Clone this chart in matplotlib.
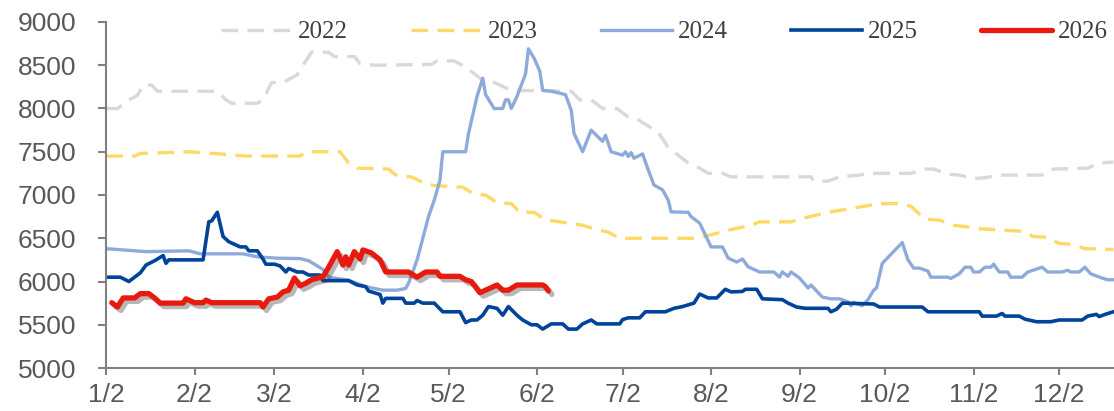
"""
Price by calendar day, 2022-2026 (seasonal comparison)
"""

from datetime import date
import matplotlib.pyplot as plt
import matplotlib.patheffects as pe

# ── Data: x = days counted from Jan 2, y = price ─────────────────────────────
days_2022 = [0, 4, 8, 11, 13, 16, 18, 39, 42, 44, 53, 55, 58, 62, 67, 69, 72, 78, 80, 87,
             89, 94, 114, 116, 122, 126, 131, 136, 142, 163, 166, 170, 174, 179, 183, 186,
             191, 193, 197, 199, 204, 207, 211, 216, 219, 247, 248, 253, 257, 264, 267,
             282, 287, 290, 295, 299, 304, 308, 313, 328, 332, 344, 348, 353]
vals_2022 = [8000, 8000, 8100, 8150, 8270, 8270, 8200, 8200, 8100, 8060, 8060, 8100, 8300,
             8300, 8390, 8500, 8650, 8650, 8600, 8600, 8520, 8500, 8510, 8550, 8550, 8480,
             8350, 8300, 8210, 8200, 8100, 8100, 8000, 8000, 7900, 7880, 7775, 7750, 7550,
             7500, 7370, 7330, 7250, 7250, 7210, 7210, 7160, 7160, 7210, 7230, 7250, 7250,
             7300, 7300, 7240, 7230, 7190, 7200, 7230, 7230, 7300, 7310, 7370, 7380]

days_2023 = [0, 10, 12, 29, 38, 49, 68, 70, 82, 85, 88, 99, 102, 107, 112, 115, 125, 129,
             133, 137, 142, 145, 150, 154, 157, 163, 167, 172, 176, 180, 207, 212, 219, 226,
             229, 240, 244, 253, 262, 271, 278, 282, 287, 292, 297, 302, 306, 321, 325, 330,
             334, 338, 343, 353]
vals_2023 = [7450, 7450, 7480, 7500, 7480, 7450, 7450, 7500, 7500, 7370, 7310, 7300, 7220,
             7210, 7130, 7110, 7090, 7010, 7000, 6910, 6900, 6800, 6800, 6710, 6700, 6670,
             6650, 6600, 6570, 6500, 6500, 6540, 6600, 6650, 6690, 6690, 6730, 6800, 6850,
             6900, 6900, 6870, 6720, 6710, 6650, 6630, 6610, 6580, 6520, 6510, 6440, 6430,
             6380, 6370]

days_2024 = [0, 14, 29, 33, 48, 53, 60, 68, 71, 76, 78, 85, 91, 97, 102, 105, 106, 109, 111,
             113, 115, 117, 118, 126, 127, 130, 132, 133, 136, 139, 140, 141, 142, 144, 147,
             148, 150, 152, 153, 156, 161, 163, 164, 167, 170, 174, 175, 177, 181, 182, 183,
             184, 185, 188, 190, 192, 195, 197, 198, 204, 205, 208, 212, 216, 218, 221, 223,
             225, 229, 234, 236, 237, 239, 240, 243, 246, 247, 251, 254, 257, 260, 261, 262,
             265, 267, 269, 270, 272, 279, 281, 283, 285, 288, 289, 295, 296, 299, 301, 303,
             304, 306, 308, 310, 311, 313, 316, 317, 321, 323, 328, 330, 335, 337, 338, 341,
             343, 345, 349, 351, 353]
vals_2024 = [6380, 6345, 6355, 6320, 6320, 6285, 6270, 6265, 6240, 6140, 6050, 6015, 5940,
             5900, 5900, 5920, 5980, 6250, 6500, 6750, 6940, 7170, 7500, 7500, 7710, 8140,
             8350, 8160, 8000, 8000, 8100, 8100, 8000, 8140, 8400, 8690, 8580, 8430, 8210,
             8200, 8160, 7980, 7710, 7500, 7750, 7620, 7690, 7500, 7460, 7500, 7445, 7490,
             7425, 7475, 7290, 7115, 7060, 6940, 6805, 6800, 6750, 6675, 6400, 6400, 6270,
             6225, 6260, 6170, 6110, 6110, 6050, 6110, 6060, 6110, 6040, 5925, 5960, 5820,
             5800, 5800, 5765, 5720, 5760, 5720, 5790, 5900, 5925, 6210, 6450, 6250, 6155,
             6155, 6120, 6050, 6050, 6035, 6090, 6165, 6165, 6110, 6110, 6165, 6165, 6200,
             6110, 6110, 6050, 6050, 6110, 6165, 6110, 6110, 6130, 6110, 6110, 6165, 6090,
             6040, 6020, 6020]

days_2025 = [0, 5, 8, 12, 14, 17, 20, 21, 22, 34, 36, 37, 39, 41, 43, 47, 49, 50, 53, 55,
             56, 59, 61, 63, 64, 67, 69, 71, 75, 76, 85, 88, 91, 92, 96, 97, 98, 104, 105,
             108, 109, 111, 115, 118, 124, 126, 128, 130, 132, 134, 137, 139, 141, 144, 146,
             149, 151, 153, 156, 160, 162, 165, 167, 170, 172, 180, 181, 183, 187, 189, 196,
             199, 202, 206, 208, 211, 214, 217, 219, 223, 224, 228, 230, 237, 239, 242, 245,
             253, 254, 256, 258, 269, 271, 286, 288, 306, 307, 312, 314, 315, 320, 322, 326,
             331, 334, 342, 344, 347, 348, 351, 353]
vals_2025 = [6050, 6050, 6000, 6100, 6190, 6240, 6300, 6210, 6250, 6250, 6690, 6700, 6800,
             6520, 6460, 6400, 6400, 6355, 6355, 6260, 6200, 6200, 6180, 6110, 6150, 6110,
             6110, 6075, 6075, 6010, 6010, 5960, 5940, 5890, 5850, 5750, 5805, 5805, 5750,
             5750, 5780, 5750, 5750, 5650, 5650, 5525, 5555, 5555, 5610, 5710, 5690, 5610,
             5710, 5610, 5555, 5500, 5500, 5450, 5510, 5510, 5450, 5450, 5510, 5555, 5510,
             5510, 5560, 5580, 5580, 5650, 5650, 5690, 5710, 5750, 5855, 5810, 5810, 5910,
             5880, 5885, 5910, 5910, 5800, 5790, 5750, 5705, 5690, 5690, 5650, 5680, 5750,
             5740, 5705, 5705, 5650, 5650, 5600, 5600, 5630, 5600, 5600, 5565, 5535, 5535,
             5555, 5555, 5600, 5620, 5595, 5630, 5650]

days_2026 = [2, 4, 6, 10, 12, 15, 17, 19, 27, 28, 31, 34, 35, 37, 54, 55, 57, 60, 62, 64,
             66, 68, 70, 72, 76, 78, 81, 83, 84, 85, 87, 89, 90, 93, 96, 98, 106, 109, 112,
             116, 117, 124, 126, 128, 131, 133, 137, 139, 141, 144, 153, 154, 155]
vals_2026 = [5755, 5705, 5810, 5810, 5860, 5860, 5810, 5750, 5750, 5800, 5755, 5755, 5785,
             5755, 5755, 5705, 5800, 5820, 5880, 5900, 6040, 5950, 5980, 6020, 6055, 6165,
             6345, 6190, 6285, 6190, 6345, 6260, 6365, 6330, 6250, 6110, 6110, 6050, 6110,
             6110, 6060, 6060, 6020, 6000, 5870, 5900, 5960, 5900, 5900, 5960, 5960, 5940,
             5890]

month_ticks = [(date(2025, m, 2) - date(2025, 1, 2)).days for m in range(1, 13)]
month_labels = [f'{m}/2' for m in range(1, 13)]

# ── Figure ───────────────────────────────────────────────────────────────────
fig = plt.figure(figsize=(11.14, 4.11), dpi=100)
ax = fig.add_axes([0.0952, 0.1046, 0.9048, 0.8419])

dash = (0, (5, 2.8))
ax.plot(days_2022, vals_2022, color='#D9D9D9', lw=2.4, ls=dash, label='2022')
ax.plot(days_2023, vals_2023, color='#FFD966', lw=2.4, ls=dash, label='2023')
ax.plot(days_2024, vals_2024, color='#8EAADB', lw=2.4, solid_joinstyle='round', label='2024')
ax.plot(days_2025, vals_2025, color='#00449A', lw=2.6, solid_joinstyle='round', label='2025')
ax.plot(days_2026, vals_2026, color='#E8190F', lw=3.8, solid_joinstyle='round',
        solid_capstyle='round', label='2026',
        path_effects=[pe.SimpleLineShadow(offset=(2.5, -2.5), shadow_color='#333333', alpha=0.35),
                      pe.Normal()])

ax.set_xlim(0, 353.2)
ax.set_ylim(5000, 9000)
ax.set_yticks(range(5000, 9001, 500))
ax.set_xticks(month_ticks)
ax.set_xticklabels(month_labels)

for side in ('top', 'right'):
    ax.spines[side].set_visible(False)
for side in ('left', 'bottom'):
    ax.spines[side].set_color('#808080')
    ax.spines[side].set_linewidth(1.5)

ax.tick_params(axis='y', direction='out', length=6, width=1.5, color='#808080', pad=15.5,
               labelsize=19, labelcolor='#595959')
ax.tick_params(axis='x', direction='out', length=5, width=1.5, color='#808080', pad=6,
               labelsize=19, labelcolor='#595959')
for lab in ax.get_xticklabels() + ax.get_yticklabels():
    lab.set_fontfamily('Liberation Sans')

leg = ax.legend(loc='center', bbox_to_anchor=(0.5965, 0.922), bbox_transform=fig.transFigure,
                ncol=5, frameon=False, handlelength=2.85, handletextpad=0.25, columnspacing=2.5,
                prop={'family': 'Liberation Serif', 'size': 18})
for t in leg.get_texts():
    t.set_color('#404040')
# no shadow on the legend key of 2026
leg.legend_handles[4].set_path_effects([])

fig.savefig('out.png', dpi=100)
